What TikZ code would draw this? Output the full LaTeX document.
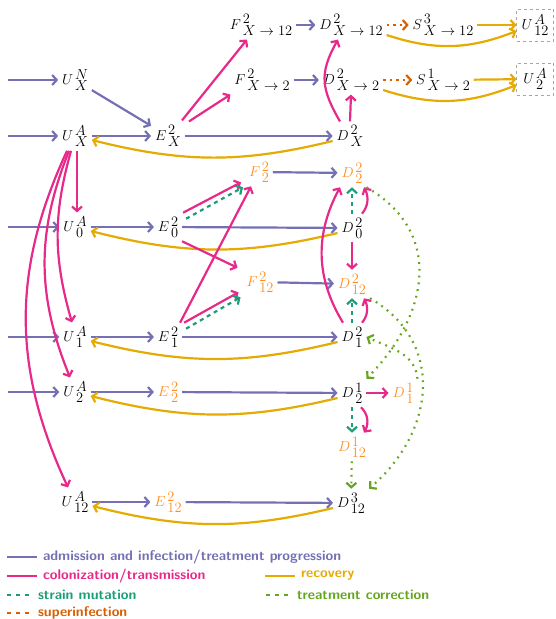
\documentclass[tikz,border=0pt]{standalone}
\usetikzlibrary{arrows.meta,bending}
\definecolor{cadm}{HTML}{7570B3}
\definecolor{ccol}{HTML}{E7298A}
\definecolor{crec}{HTML}{E6AB02}
\definecolor{cmut}{HTML}{1B9E77}
\definecolor{ccor}{HTML}{66A61E}
\definecolor{csup}{HTML}{D95F02}
\definecolor{corg}{HTML}{FF8C1A}
\newcommand{\nd}[3]{$#1$\kern1.8pt\raisebox{-6pt}{\vbox{\offinterlineskip\hbox{$#2$}\kern2pt\hbox{$#3$}}}}
\begin{document}
\begin{tikzpicture}[x=1pt,y=1pt,
  every node/.style={inner sep=4pt, outer sep=0pt, font=\fontsize{14}{16}\selectfont},
  os/.style={text=corg},
  atip/.style={-{Straight Barb[length=4.5pt,width=10pt]}},
  adm/.style={draw=cadm, line width=2.2pt, atip},
  col/.style={draw=ccol, line width=2.2pt, atip},
  rec/.style={draw=crec, line width=2.2pt, atip},
  mut/.style={draw=cmut, line width=2.2pt, atip, dash pattern=on 4pt off 4pt},
  cor/.style={draw=ccor, line width=2.2pt, atip, dash pattern=on 1.8pt off 5pt},
  supi/.style={draw=csup, line width=2.2pt, atip, dash pattern=on 2.5pt off 4pt},
  bx/.style={draw=gray!70, dash pattern=on 3pt off 3pt, line width=0.8pt, minimum width=37pt, minimum height=32pt, inner sep=1pt},
  leg/.style={anchor=west, font=\fontsize{14}{16}\selectfont\sffamily\bfseries, inner sep=0pt},
]
\useasboundingbox (0,0) rectangle (556,-619);

% nodes
\node (UNX) at (75,-80) {\nd{U}{N}{X}};
\node (UAX) at (75,-136) {\nd{U}{A}{X}};
\node (EX) at (168,-136) {\nd{E}{2}{X}};
\node (DX) at (350,-136) {\nd{D}{2}{X}};
\node (FX12) at (261,-25) {\nd{F}{2}{X\to12}};
\node (DX12) at (351,-25) {\nd{D}{2}{X\to12}};
\node (SX12) at (443,-25) {\nd{S}{3}{X\to12}};
\node[bx] (B12) at (535,-25) {\nd{U}{A}{12}};
\node (FX2) at (262,-80) {\nd{F}{2}{X\to2}};
\node (DX2) at (351,-80) {\nd{D}{2}{X\to2}};
\node (SX2) at (443,-80) {\nd{S}{1}{X\to2}};
\node[bx] (B2) at (535,-79) {\nd{U}{A}{2}};
\node[os] (F22) at (259,-172) {\nd{F}{2}{2}};
\node[os] (D22) at (352,-173) {\nd{D}{2}{2}};
\node (UA0) at (75,-227) {\nd{U}{A}{0}};
\node (E0) at (168,-227) {\nd{E}{2}{0}};
\node (D0) at (352,-228) {\nd{D}{2}{0}};
\node[os] (F12) at (260,-282) {\nd{F}{2}{12}};
\node[os] (D12) at (352,-284) {\nd{D}{2}{12}};
\node (UA1) at (75,-337) {\nd{U}{A}{1}};
\node (E1) at (168,-337) {\nd{E}{2}{1}};
\node (D1) at (352,-337) {\nd{D}{2}{1}};
\node (UA2) at (75,-392) {\nd{U}{A}{2}};
\node[os] (E2) at (168,-392) {\nd{E}{2}{2}};
\node (D2one) at (352,-393) {\nd{D}{1}{2}};
\node[os] (D11) at (403,-393) {\nd{D}{1}{1}};
\node[os] (D112) at (352,-447) {\nd{D}{1}{12}};
\node (UA12) at (75,-502) {\nd{U}{A}{12}};
\node[os] (E12) at (168,-502) {\nd{E}{2}{12}};
\node (D312) at (351,-503) {\nd{D}{3}{12}};

% incoming admissions
\coordinate (iN) at (8,-80);
\coordinate (iX) at (8,-136);
\coordinate (i0) at (8,-227);
\coordinate (i1) at (8,-337);
\coordinate (i2) at (8,-392);
\draw[adm] (iN) -- (UNX);
\draw[adm] (iX) -- (UAX);
\draw[adm] (i0) -- (UA0);
\draw[adm] (i1) -- (UA1);
\draw[adm] (i2) -- (UA2);

% progression
\draw[adm] (UNX) -- (EX);
\draw[adm] (UAX) -- (EX);
\draw[adm] (EX) -- (DX);
\draw[adm] (FX12) -- (DX12);
\draw[adm] (FX2) -- (DX2);
\draw[adm] (F22) -- (D22);
\draw[adm] (F12) -- (D12);
\draw[adm] (UA0) -- (E0);
\draw[adm] (E0) -- (D0);
\draw[adm] (UA1) -- (E1);
\draw[adm] (E1) -- (D1);
\draw[adm] (UA2) -- (E2);
\draw[adm] (E2) -- (D2one);
\draw[adm] (UA12) -- (E12);
\draw[adm] (E12) -- (D312);

% recovery
\draw[rec] ([yshift=-5pt]DX.west) to[bend left=14] ([yshift=-4pt]UAX.east);
\draw[rec] ([yshift=-5pt]D0.west) to[bend left=14] ([yshift=-4pt]UA0.east);
\draw[rec] ([yshift=-5pt]D1.west) to[bend left=14] ([yshift=-4pt]UA1.east);
\draw[rec] ([yshift=-5pt]D2one.west) to[bend left=14] ([yshift=-4pt]UA2.east);
\draw[rec] ([yshift=-5pt]D312.west) to[bend left=14] ([yshift=-4pt]UA12.east);
\draw[rec] (SX12) -- (B12);
\draw[rec] (SX2) -- (B2);
\draw[rec] ([yshift=-10pt]DX12.east) to[bend right=20] ([yshift=-6pt]B12.west);
\draw[rec] ([yshift=-10pt]DX2.east) to[bend right=20] ([yshift=-6pt]B2.west);

% colonization / transmission
\draw[col] ([xshift=-3pt,yshift=1pt]EX.north east) -- ([xshift=-14pt]FX12.south);
\draw[col] ([xshift=4pt]EX.north east) -- (FX2.south west);
\draw[col] (DX.north) -- (DX2.south);
\draw[col] ([xshift=-10pt]DX.north) to[out=120,in=-120,looseness=1.2] ([xshift=-13pt]DX12.south);
\draw[col] ([xshift=2pt]UAX.south) -- ([xshift=2pt]UA0.north);
\draw[col] ([xshift=-4pt]UAX.south) to[bend right=16] ([xshift=-3pt]UA1.north);
\draw[col] ([xshift=-6pt]UAX.south) to[bend right=22] ([xshift=-5pt]UA2.north);
\draw[col] ([xshift=-8pt]UAX.south) to[bend right=25] ([xshift=-7pt]UA12.north);
\draw[col] ([xshift=1pt]E0.north east) -- ([xshift=-4pt,yshift=4pt]F22.south west);
\draw[col] (E0.south east) -- ([xshift=-5pt]F12.north west);
\draw[col] ([xshift=-2pt]E1.north east) -- ([xshift=6pt]F22.south west);
\draw[col] ([xshift=2pt]E1.north east) -- ([xshift=-4pt,yshift=4pt]F12.south west);
\draw[col] ([xshift=10pt]D0.north) to[bend right=35] ([xshift=12pt]D22.south);
\draw[col] (D0.south) -- (D12.north);
\draw[col] ([xshift=10pt]D1.north) to[bend right=35] ([xshift=12pt]D12.south);
\draw[col] ([xshift=-9pt]D1.north) to[bend left=30] ([xshift=-12pt]D22.south);
\draw[col] ([xshift=9pt]D2one.south) to[bend left=40] ([xshift=12pt]D112.north);
\draw[col] (D2one) -- (D11);

% strain mutation
\draw[mut] ([xshift=4pt,yshift=-6pt]E0.north east) -- ([xshift=-2pt,yshift=-1pt]F22.south west);
\draw[mut] ([xshift=4pt,yshift=-6pt]E1.north east) -- ([xshift=-2pt,yshift=-1pt]F12.south west);
\draw[mut] (D0.north) -- (D22.south);
\draw[mut] (D1.north) -- (D12.south);
\draw[mut] (D2one.south) -- (D112.north);

% treatment correction
\draw[cor] (D112) -- (D312);
\draw[cor] (D22.south east) to[out=-30,in=45,looseness=1.2] (D2one.north east);
\draw[cor] (D12.south east) to[out=-30,in=40,looseness=1.17] (D312.north east);
\draw[cor] (D11.north east) to[out=95,in=-25] (D1.east);

% superinfection
\draw[supi] (DX12) -- (SX12);
\draw[supi] (DX2) -- (SX2);

% legend
\node[leg, text=cadm] (L1) at (43,-557) {admission and infection/treatment progression};
\draw[cadm, line width=1.5pt] ([xshift=-36pt]L1.west) -- ([xshift=-6pt]L1.west);
\node[leg, text=ccol] (L2) at (43,-576) {colonization/transmission};
\draw[ccol, line width=1.5pt] ([xshift=-36pt]L2.west) -- ([xshift=-6pt]L2.west);
\node[leg, text=crec] (L3) at (301,-576) {recovery};
\draw[crec, line width=1.5pt] ([xshift=-36pt]L3.west) -- ([xshift=-6pt]L3.west);
\node[leg, text=cmut] (L4) at (38,-595) {strain mutation};
\draw[cmut, line width=1.5pt, dash pattern=on 4pt off 5pt] ([xshift=-31pt]L4.west) -- ([xshift=-5pt]L4.west);
\node[leg, text=ccor] (L5) at (297,-595) {treatment correction};
\draw[ccor, line width=1.5pt, dash pattern=on 4pt off 5pt] ([xshift=-31pt]L5.west) -- ([xshift=-5pt]L5.west);
\node[leg, text=csup] (L6) at (38,-613) {superinfection};
\draw[csup, line width=1.5pt, dash pattern=on 4pt off 5pt] ([xshift=-31pt]L6.west) -- ([xshift=-5pt]L6.west);
\end{tikzpicture}
\end{document}
